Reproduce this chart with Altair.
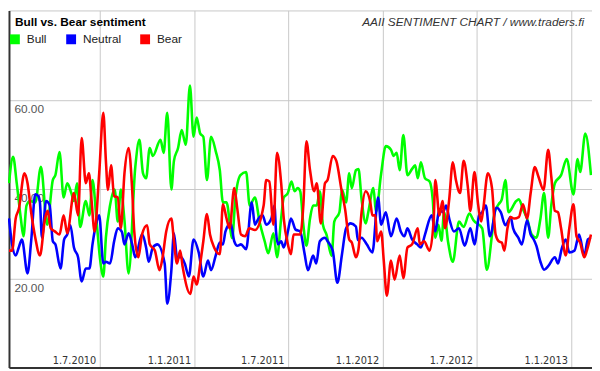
import altair as alt
import pandas as pd

# ---------------- data ----------------
START = "2010-01-06"          # date at the left edge of the plot
END = "2013-02-10"            # date at the right edge of the plot
SERIES = ["Bull", "Neutral", "Bear"]
COLORS = ["#00ff00", "#0000ff", "#ff0000"]
TICK_DATES = ["2010-07-01", "2011-01-01", "2011-07-01", "2012-01-01", "2012-07-01", "2013-01-01"]
Y_TICKS = [20, 40, 60]
TITLE = "Bull vs. Bear sentiment"
SOURCE = "AAII SENTIMENT CHART / www.traders.fi"

# day offsets from START and percentage values
bull_day = [0, 8, 15, 23, 28, 34, 41, 51, 62, 74, 85, 90, 98, 106, 113, 121, 126, 132, 138, 149,
            156, 162, 170, 177, 183, 188, 196, 205, 211, 217, 224, 232, 245, 253, 260, 266, 273, 279, 294, 300,
            307, 315, 320, 328, 335, 343, 351, 358, 364, 371, 377, 384, 392, 401, 409, 415, 422, 433, 439, 449,
            460, 467, 477, 486, 496, 503, 513, 520, 528, 533, 541, 548, 554, 560, 565, 571, 577, 584, 590, 597,
            603, 609, 616, 626, 631, 641, 646, 654, 660, 665, 673, 678, 684, 692, 697, 707, 712, 722, 731, 741,
            746, 752, 758, 765, 773, 782, 788, 793, 799, 807, 816, 822, 827, 833, 839, 844, 852, 861, 873, 882,
            893, 901, 918, 927, 937, 942, 950, 956, 963, 969, 984, 989, 997, 1005, 1014, 1023, 1031, 1038, 1046, 1052,
            1059, 1071, 1082, 1095, 1103, 1108, 1118, 1129]
bull_val = [41.3, 47.2, 41.3, 33.4, 29.4, 36.3, 37.3, 37.0, 45.0, 32.0, 42.0, 43.1, 48.3, 38.1, 41.3, 39.1, 37.3, 41.3, 31.5, 37.3,
            34.1, 42.0, 32.7, 24.0, 20.4, 29.1, 36.3, 39.9, 32.7, 39.9, 33.0, 21.1, 44.9, 51.0, 43.5, 42.4, 49.2, 47.4, 51.0, 48.1,
            57.1, 39.9, 46.3, 49.2, 53.2, 49.9, 63.2, 51.7, 56.0, 52.4, 51.7, 42.0, 51.7, 48.5, 44.2, 37.0, 37.0, 29.0, 37.7, 43.1,
            43.8, 36.3, 38.1, 32.7, 28.3, 25.6, 30.1, 24.7, 33.4, 38.1, 39.1, 41.7, 39.5, 40.2, 39.5, 32.0, 27.3, 33.4, 36.3, 36.3,
            39.5, 32.0, 29.8, 25.0, 32.7, 34.8, 39.8, 37.0, 43.5, 40.2, 44.2, 44.5, 37.7, 32.3, 34.8, 40.2, 34.8, 43.5, 49.6, 48.8,
            47.4, 48.1, 44.2, 52.1, 43.1, 44.5, 45.3, 42.4, 46.0, 42.4, 41.7, 37.7, 29.1, 32.0, 28.4, 34.8, 28.0, 23.7, 32.7, 31.5,
            34.5, 33.0, 31.2, 21.9, 29.8, 34.8, 36.6, 37.7, 42.0, 34.8, 37.3, 37.7, 35.5, 33.4, 29.8, 29.1, 33.4, 39.1, 29.1, 36.3,
            41.3, 43.1, 46.7, 38.8, 46.7, 43.8, 52.4, 43.1]

neutral_day = [0, 6, 13, 19, 25, 36, 43, 51, 57, 60, 64, 72, 79, 85, 90, 100, 107, 113, 119, 126,
               134, 141, 149, 156, 162, 170, 175, 183, 188, 196, 204, 211, 219, 224, 232, 239, 245, 258, 266, 271,
               279, 288, 302, 307, 315, 320, 326, 334, 341, 349, 358, 368, 377, 386, 392, 401, 409, 415, 420, 430,
               437, 443, 450, 460, 471, 477, 484, 492, 499, 509, 515, 518, 522, 528, 533, 541, 547, 556, 565, 573,
               580, 590, 596, 603, 613, 618, 628, 637, 646, 654, 663, 673, 677, 684, 694, 705, 716, 722, 731, 741,
               752, 760, 767, 773, 782, 792, 799, 807, 820, 827, 835, 842, 848, 854, 863, 873, 884, 895, 903, 912,
               918, 925, 933, 946, 954, 963, 973, 978, 988, 995, 1005, 1012, 1018, 1023, 1031, 1038, 1046, 1059, 1065, 1072,
               1080, 1087, 1097, 1106, 1116, 1123, 1129]
neutral_val = [33.4, 27.6, 25.1, 26.9, 28.7, 21.1, 28.3, 38.8, 38.4, 37.0, 29.1, 37.3, 36.3, 28.3, 27.6, 22.2, 28.7, 29.8, 31.9, 26.9,
               24.7, 19.3, 22.2, 22.2, 27.6, 32.7, 34.1, 23.3, 23.7, 23.3, 28.3, 31.2, 30.4, 27.6, 30.1, 27.6, 24.7, 29.8, 26.9, 23.7,
               26.9, 27.6, 23.3, 14.3, 21.8, 30.1, 24.7, 24.7, 23.3, 20.4, 28.7, 25.8, 20.4, 24.0, 21.8, 25.1, 28.0, 27.6, 30.5, 32.3,
               28.3, 27.3, 27.6, 26.5, 37.0, 32.0, 33.4, 34.1, 32.0, 33.4, 36.3, 30.5, 27.6, 28.3, 26.9, 30.5, 33.4, 30.9, 30.5, 25.8,
               21.8, 25.1, 23.3, 28.3, 29.1, 28.3, 26.2, 19.0, 25.4, 31.2, 32.3, 31.6, 28.5, 29.1, 27.6, 25.8, 38.1, 32.0, 34.8, 29.4,
               33.4, 30.5, 29.4, 31.2, 28.7, 27.6, 26.9, 29.8, 34.1, 30.5, 35.5, 34.8, 36.3, 33.4, 30.5, 31.2, 27.3, 31.2, 27.6, 34.1,
               34.8, 36.3, 29.4, 35.8, 34.8, 31.9, 33.7, 31.2, 29.1, 27.6, 33.0, 29.8, 28.7, 27.3, 23.7, 21.9, 22.7, 24.7, 23.3, 26.5,
               28.7, 25.8, 26.2, 29.8, 25.1, 28.7, 29.1]

bear_day = [0, 6, 13, 19, 30, 36, 43, 51, 60, 70, 75, 81, 89, 98, 106, 113, 126, 134, 141, 149,
            155, 160, 166, 175, 183, 188, 192, 198, 204, 211, 217, 224, 232, 239, 243, 251, 258, 268, 273, 283,
            292, 298, 305, 315, 320, 326, 332, 337, 352, 358, 364, 371, 377, 384, 390, 398, 409, 415, 422, 428,
            437, 443, 450, 458, 466, 477, 494, 499, 505, 513, 520, 528, 533, 541, 547, 552, 565, 571, 577, 584,
            592, 597, 605, 613, 618, 628, 635, 645, 652, 660, 665, 673, 678, 684, 692, 701, 705, 711, 714, 722,
            727, 733, 741, 748, 758, 765, 773, 782, 793, 797, 805, 816, 824, 827, 835, 841, 846, 854, 861, 867,
            875, 882, 890, 895, 903, 910, 916, 920, 929, 937, 944, 950, 956, 961, 967, 973, 980, 989, 997, 1005,
            1012, 1020, 1027, 1037, 1046, 1052, 1059, 1065, 1071, 1080, 1087, 1095, 1101, 1108, 1116, 1121, 1129]
bear_val = [26.2, 26.2, 33.4, 35.5, 43.5, 41.3, 34.8, 29.1, 25.1, 33.4, 35.1, 31.2, 30.5, 29.8, 34.1, 30.1, 39.1, 34.1, 51.4, 41.3,
            43.5, 37.7, 30.5, 43.5, 57.1, 46.3, 39.8, 45.3, 38.4, 38.1, 31.2, 43.5, 49.2, 39.8, 30.5, 24.7, 29.8, 31.9, 27.6, 26.2,
            21.8, 24.7, 30.5, 33.4, 28.3, 23.3, 26.2, 22.5, 16.5, 20.4, 18.6, 23.3, 28.3, 34.4, 29.8, 26.9, 25.4, 36.6, 33.4, 31.2,
            40.2, 35.5, 29.8, 29.4, 31.2, 30.8, 36.3, 42.0, 41.7, 32.0, 48.1, 41.3, 33.4, 27.6, 25.4, 29.8, 29.8, 36.3, 50.7, 44.2,
            39.5, 41.3, 32.3, 41.3, 42.0, 47.4, 46.3, 39.8, 35.5, 28.7, 28.0, 24.7, 26.5, 34.8, 39.5, 37.0, 34.1, 34.1, 28.3, 30.5,
            24.0, 16.1, 24.0, 19.7, 25.1, 20.0, 26.9, 27.6, 31.2, 27.6, 28.3, 26.2, 33.4, 42.0, 34.1, 37.3, 31.2, 37.7, 46.0, 42.0,
            39.1, 46.3, 40.6, 35.1, 43.8, 36.6, 32.7, 35.5, 43.5, 40.2, 29.8, 28.3, 28.0, 26.2, 31.2, 33.7, 33.4, 33.7, 36.6, 33.4,
            39.1, 44.9, 42.8, 39.8, 48.8, 42.8, 35.1, 34.8, 31.2, 25.1, 31.2, 36.6, 29.4, 28.0, 24.7, 26.2, 29.8]

# ---------------- tables ----------------
frames = []
for name, days, vals in [("Bull", bull_day, bull_val),
                         ("Neutral", neutral_day, neutral_val),
                         ("Bear", bear_day, bear_val)]:
    frames.append(pd.DataFrame({
        "date": pd.Timestamp(START) + pd.to_timedelta(days, unit="D"),
        "value": vals,
        "series": name,
    }))
df = pd.concat(frames, ignore_index=True)


def dt(s):
    t = pd.Timestamp(s)
    return alt.DateTime(year=t.year, month=t.month, date=t.day)


x_enc = alt.X(
    "date:T",
    scale=alt.Scale(domain=[dt(START), dt(END)], nice=False),
    axis=alt.Axis(
        values=[dt(d) for d in TICK_DATES], format="%-d.%-m.%Y", title=None,
        grid=True, gridColor="#c8c8c8", gridWidth=1,
        ticks=False, tickSize=0,
        domain=True, domainColor="#333333", domainWidth=2,
        labelAlign="right", labelBaseline="alphabetic", labelPadding=-4, labelOffset=-4,
        labelFont="Liberation Sans Narrow, Arial Narrow, DejaVu Sans Condensed, sans-serif",
        labelFontSize=11, labelColor="#333333", labelFlush=False, labelOverlap=False,
    ),
)
y_enc = alt.Y(
    "value:Q",
    scale=alt.Scale(domain=[0, 80], nice=False, zero=False),
    axis=alt.Axis(
        values=Y_TICKS, format=".2f", title=None,
        grid=True, gridColor="#c8c8c8", gridWidth=1,
        ticks=False, tickSize=0,
        domain=True, domainColor="#333333", domainWidth=2,
        labelAlign="left", labelBaseline="top", labelPadding=-5, labelOffset=4,
        labelFont="Liberation Sans", labelFontSize=12, labelColor="#555555",
        labelFlush=False, labelOverlap=False,
    ),
)
legend = alt.Legend(
    orient="none", legendX=0, legendY=23, direction="horizontal", title=None,
    symbolType="square", symbolSize=25, symbolStrokeWidth=5, symbolOpacity=1,
    labelFont="Liberation Sans", labelFontSize=12, labelColor="#222222",
    labelOffset=6, columnPadding=11, padding=0, rowPadding=0,
)
color_enc = alt.Color(
    "series:N", scale=alt.Scale(domain=SERIES, range=COLORS), legend=legend
)

base = alt.Chart(df).mark_line(interpolate="monotone", strokeWidth=2.6).encode(
    x=x_enc, y=y_enc, color=color_enc
)
lines = [base.transform_filter(alt.datum.series == s) for s in SERIES]

title_txt = alt.Chart(pd.DataFrame({"t": [TITLE]})).mark_text(
    align="left", baseline="alphabetic", font="Liberation Sans", fontSize=12,
    fontWeight="bold", color="#000000"
).encode(text="t:N", x=alt.value(6), y=alt.value(16))

source_txt = alt.Chart(pd.DataFrame({"t": [SOURCE]})).mark_text(
    align="right", baseline="alphabetic", font="Liberation Sans", fontSize=12,
    fontStyle="italic", color="#333333"
).encode(text="t:N", x=alt.value(583), y=alt.value(16))

chart = alt.layer(*lines, title_txt, source_txt).properties(
    width=591, height=362,
    autosize=alt.AutoSizeParams(type="none"),
    padding={"left": 1, "top": 0, "right": 0, "bottom": 1},
    background="white",
).configure_view(stroke="#c8c8c8", strokeWidth=1)

chart.save("out.html", embed_options={"renderer": "svg", "actions": False})
